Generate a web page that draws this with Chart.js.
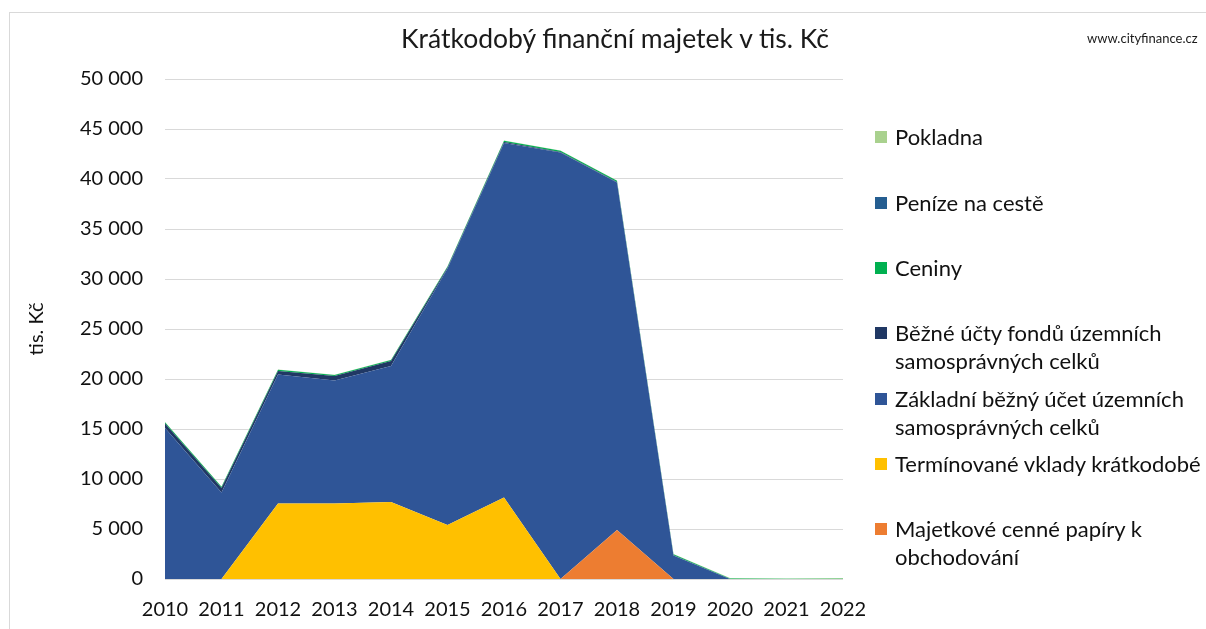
<!DOCTYPE html>
<html>
<head>
<meta charset="utf-8">
<script src="https://cdn.jsdelivr.net/npm/chart.js@4.4.1/dist/chart.umd.min.js"></script>
<style>
  html, body { margin: 0; padding: 0; background: #fff; overflow: hidden; }
  #wrap { position: relative; width: 1206px; height: 629px; overflow: hidden; font-family: Lato, "Open Sans", sans-serif; }
  #frame { position: absolute; left: 9px; top: 12px; width: 1300px; height: 700px; border-left: 1px solid #d9d9d9; border-top: 1px solid #d9d9d9; box-sizing: border-box; }
  canvas { position: absolute; left: 0; top: 0; }
  #title { position: absolute; left: 0; width: 1230px; top: 22px; text-align: center; font-size: 26.5px; color: #1a1a1a; white-space: nowrap; }
  #src { position: absolute; left: 1087px; top: 30px; font-size: 13px; color: #1a1a1a; white-space: nowrap; }
  .lg { position: absolute; left: 875px; font-size: 22px; line-height: 28px; color: #111; white-space: nowrap; }
  .lg .sw { position: absolute; left: 0; top: 8px; width: 12px; height: 12px; }
  .lg .tx { position: absolute; left: 20px; top: 0; }
</style>
</head>
<body>
<div id="wrap">
  <div id="frame"></div>
  <canvas id="c" width="1206" height="629"></canvas>
  <div id="title">Krátkodobý finanční majetek v tis. Kč</div>
  <div id="src">www.cityfinance.cz</div>
</div>
<script>
const years = ['2010','2011','2012','2013','2014','2015','2016','2017','2018','2019','2020','2021','2022'];
const majetkove   = [0, 0, 0, 0, 0, 0, 0, 0, 4900, 0, 0, 0, 0];
const terminovane = [0, 0, 7550, 7550, 7700, 5400, 8150, 0, 0, 0, 0, 0, 0];
const zakladni    = [15100, 8650, 12900, 12300, 13600, 25650, 35450, 42650, 34750, 2350, 0, 0, 0];
const fondy       = [450, 450, 350, 450, 500, 100, 100, 50, 50, 30, 0, 0, 0];
const ceniny      = [120, 120, 120, 100, 100, 100, 120, 120, 120, 100, 60, 20, 20];
const penize      = [0, 0, 0, 0, 0, 0, 0, 0, 0, 0, 0, 0, 0];
const pokladna    = [30, 30, 30, 30, 30, 30, 30, 30, 30, 30, 30, 30, 80];
const yTicks = [0, 5000, 10000, 15000, 20000, 25000, 30000, 35000, 40000, 45000, 50000];

const labels = {
  majetkove: ['Majetkové cenné papíry k', 'obchodování'],
  terminovane: ['Termínované vklady krátkodobé'],
  zakladni: ['Základní běžný účet územních', 'samosprávných celků'],
  fondy: ['Běžné účty fondů územních', 'samosprávných celků'],
  ceniny: ['Ceniny'],
  penize: ['Peníze na cestě'],
  pokladna: ['Pokladna']
};

const series = [
  { key: 'majetkove', data: majetkove, color: '#ed7d31' },
  { key: 'terminovane', data: terminovane, color: '#ffc000' },
  { key: 'zakladni', data: zakladni, color: '#2f5597' },
  { key: 'fondy', data: fondy, color: '#203864' },
  { key: 'ceniny', data: ceniny, color: '#00b050' },
  { key: 'penize', data: penize, color: '#255e91' },
  { key: 'pokladna', data: pokladna, color: '#a9d18e' }
];

const datasets = series.map((s, i) => ({
  label: labels[s.key].join(' '),
  data: s.data,
  backgroundColor: s.color,
  borderColor: s.color,
  borderWidth: 0,
  pointRadius: 0,
  tension: 0,
  fill: i === 0 ? 'origin' : '-1'
}));

const fontFamily = 'Lato, "Open Sans", sans-serif';

new Chart(document.getElementById('c'), {
  type: 'line',
  data: { labels: years, datasets },
  options: {
    responsive: false,
    animation: false,
    layout: { padding: { left: 0, top: 79, right: 363, bottom: 0 } },
    plugins: { legend: { display: false }, tooltip: { enabled: false }, title: { display: false } },
    scales: {
      x: {
        offset: false,
        grid: { display: false, drawTicks: false },
        border: { display: false },
        ticks: { color: '#111', font: { family: fontFamily, size: 20 }, padding: 19, maxRotation: 0, autoSkip: false },
        afterFit: (scale) => { scale.height = 50; }
      },
      y: {
        stacked: true,
        min: 0,
        max: 50000,
        afterBuildTicks: (scale) => { scale.ticks = yTicks.map(v => ({ value: v })); },
        grid: { color: '#d9d9d9', lineWidth: 1, drawTicks: false },
        border: { display: false },
        ticks: {
          color: '#111',
          font: { family: fontFamily, size: 20 },
          padding: 22,
          callback: (v) => String(v).replace(/\B(?=(\d{3})+(?!\d))/g, ' ')
        },
        title: { display: true, text: 'tis. Kč', color: '#111', font: { family: fontFamily, size: 20 }, padding: { top: 25, bottom: 0 } },
        afterFit: (scale) => { scale.width = 165; }
      }
    }
  }
});

// HTML legend (reverse stack order, like the original)
const legendTops = [137, 203, 268, 333, 399, 464, 529];
const wrap = document.getElementById('wrap');
series.slice().reverse().forEach((s, i) => {
  const d = document.createElement('div');
  d.className = 'lg';
  d.style.top = (legendTops[i] - 14) + 'px';
  const sw = document.createElement('div');
  sw.className = 'sw';
  sw.style.background = s.color;
  const tx = document.createElement('div');
  tx.className = 'tx';
  tx.innerHTML = labels[s.key].join('<br>');
  d.appendChild(sw);
  d.appendChild(tx);
  wrap.appendChild(d);
});
</script>
</body>
</html>
